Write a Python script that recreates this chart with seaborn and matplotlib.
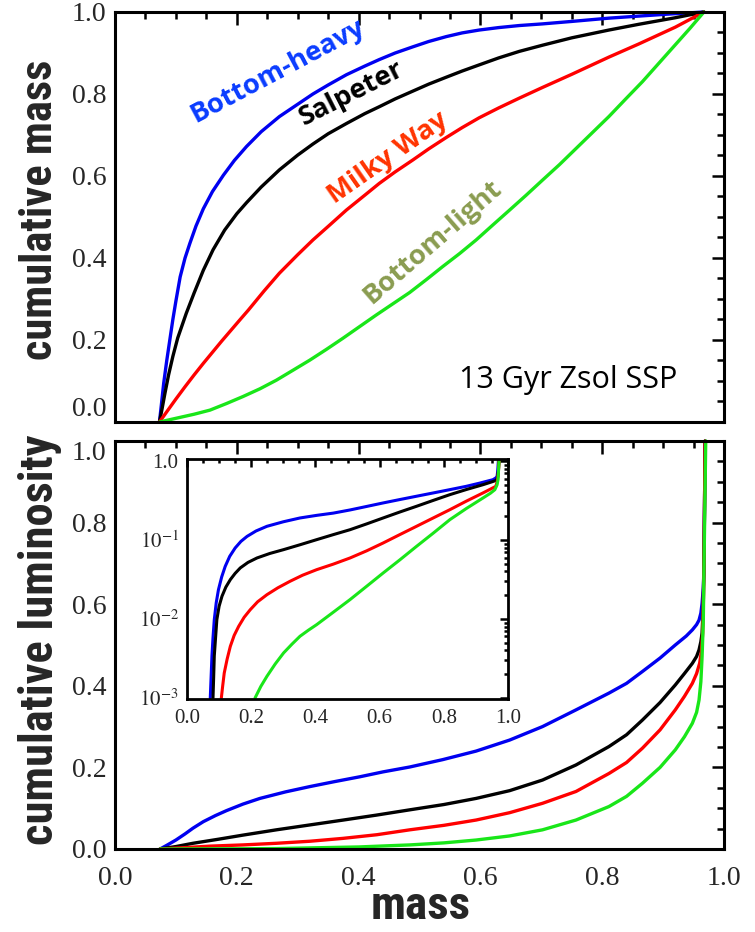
import math
import matplotlib
matplotlib.use("Agg")
import matplotlib.pyplot as plt
import seaborn as sns
from matplotlib.ticker import MultipleLocator, FixedLocator, FuncFormatter, LogLocator, NullFormatter

# ---------------- data ----------------
# top panel: cumulative mass vs mass
blue_mx = [0.073, 0.076, 0.080, 0.085, 0.090, 0.095, 0.100, 0.107, 0.115, 0.123, 0.133, 0.145,
           0.160, 0.178, 0.196, 0.216, 0.240, 0.270, 0.300, 0.325, 0.350, 0.380, 0.410, 0.434,
           0.460, 0.489, 0.515, 0.544, 0.570, 0.598, 0.630, 0.664, 0.702, 0.750, 0.811, 0.860,
           0.910, 0.967]
blue_my = [0.0, 0.04, 0.095, 0.15, 0.20, 0.25, 0.295, 0.354, 0.40, 0.436, 0.478, 0.520,
           0.562, 0.602, 0.638, 0.672, 0.708, 0.745, 0.775, 0.800, 0.822, 0.847, 0.868, 0.884,
           0.900, 0.915, 0.928, 0.940, 0.949, 0.956, 0.962, 0.967, 0.971, 0.977, 0.985, 0.990,
           0.995, 1.0]
black_mx = [0.073, 0.077, 0.082, 0.088, 0.095, 0.103, 0.117, 0.130, 0.145, 0.161, 0.180, 0.200,
            0.216, 0.240, 0.270, 0.300, 0.325, 0.350, 0.380, 0.410, 0.434, 0.460, 0.489, 0.515,
            0.544, 0.570, 0.598, 0.630, 0.664, 0.702, 0.750, 0.811, 0.860, 0.920, 0.967]
black_my = [0.0, 0.03, 0.07, 0.115, 0.16, 0.205, 0.265, 0.315, 0.37, 0.420, 0.468, 0.508,
            0.535, 0.573, 0.615, 0.651, 0.678, 0.703, 0.728, 0.752, 0.769, 0.788, 0.807, 0.824,
            0.841, 0.856, 0.871, 0.888, 0.904, 0.919, 0.937, 0.956, 0.970, 0.986, 1.0]
red_mx = [0.073, 0.085, 0.100, 0.115, 0.130, 0.145, 0.160, 0.175, 0.190, 0.205, 0.219, 0.245,
          0.270, 0.300, 0.325, 0.350, 0.380, 0.410, 0.434, 0.460, 0.489, 0.515, 0.544, 0.570,
          0.598, 0.630, 0.664, 0.702, 0.750, 0.811, 0.860, 0.920, 0.967]
red_my = [0.0, 0.025, 0.056, 0.086, 0.115, 0.143, 0.170, 0.197, 0.223, 0.249, 0.273, 0.320,
          0.363, 0.408, 0.444, 0.477, 0.517, 0.553, 0.582, 0.610, 0.639, 0.666, 0.694, 0.718,
          0.742, 0.766, 0.790, 0.816, 0.848, 0.890, 0.922, 0.963, 1.0]
green_mx = [0.073, 0.100, 0.130, 0.156, 0.183, 0.210, 0.238, 0.265, 0.292, 0.320, 0.347, 0.374,
            0.401, 0.429, 0.456, 0.484, 0.511, 0.538, 0.566, 0.593, 0.620, 0.648, 0.675, 0.702,
            0.730, 0.757, 0.784, 0.811, 0.838, 0.866, 0.893, 0.920, 0.944, 0.967]
green_my = [0.0, 0.009, 0.019, 0.029, 0.045, 0.062, 0.081, 0.102, 0.126, 0.151, 0.177, 0.204,
            0.232, 0.261, 0.288, 0.316, 0.347, 0.379, 0.411, 0.444, 0.480, 0.517, 0.553, 0.590,
            0.628, 0.667, 0.706, 0.745, 0.787, 0.830, 0.875, 0.920, 0.960, 1.0]

# bottom panel: cumulative luminosity vs mass
blue_lx = [0.074, 0.085, 0.100, 0.115, 0.128, 0.145, 0.165, 0.183, 0.210, 0.238, 0.280, 0.320,
           0.360, 0.402, 0.440, 0.484, 0.538, 0.593, 0.648, 0.702, 0.757, 0.811, 0.840, 0.866,
           0.895, 0.920, 0.938, 0.948, 0.955, 0.959, 0.962, 0.964, 0.966, 0.967, 0.968, 0.969]
blue_ly = [0.0, 0.009, 0.022, 0.037, 0.051, 0.067, 0.082, 0.094, 0.110, 0.124, 0.140, 0.153,
           0.165, 0.177, 0.189, 0.201, 0.219, 0.240, 0.267, 0.300, 0.341, 0.382, 0.406, 0.435,
           0.468, 0.500, 0.522, 0.537, 0.550, 0.561, 0.578, 0.602, 0.640, 0.676, 0.839, 1.0]
black_lx = [0.074, 0.100, 0.128, 0.170, 0.210, 0.265, 0.320, 0.375, 0.429, 0.484, 0.540, 0.593,
            0.648, 0.702, 0.757, 0.811, 0.840, 0.866, 0.895, 0.920, 0.935, 0.948, 0.955, 0.959,
            0.962, 0.964, 0.966, 0.968, 0.969]
black_ly = [0.0, 0.006, 0.014, 0.024, 0.034, 0.047, 0.059, 0.071, 0.083, 0.096, 0.109, 0.124,
            0.143, 0.169, 0.206, 0.251, 0.280, 0.316, 0.359, 0.402, 0.430, 0.455, 0.472, 0.488,
            0.508, 0.529, 0.594, 0.839, 1.0]
red_lx = [0.074, 0.110, 0.156, 0.210, 0.265, 0.320, 0.374, 0.430, 0.484, 0.540, 0.593, 0.648,
          0.702, 0.757, 0.811, 0.840, 0.866, 0.895, 0.920, 0.935, 0.948, 0.955, 0.960, 0.963,
          0.965, 0.967, 0.969]
red_ly = [0.0, 0.003, 0.007, 0.010, 0.014, 0.019, 0.026, 0.035, 0.047, 0.058, 0.071, 0.089,
          0.112, 0.141, 0.185, 0.212, 0.247, 0.292, 0.341, 0.374, 0.406, 0.430, 0.455, 0.485,
          0.530, 0.676, 1.0]
green_lx = [0.074, 0.200, 0.265, 0.330, 0.400, 0.450, 0.484, 0.540, 0.593, 0.648, 0.702, 0.757,
            0.811, 0.840, 0.866, 0.895, 0.920, 0.935, 0.948, 0.955, 0.959, 0.962, 0.964, 0.966,
            0.967, 0.970]
green_ly = [0.0, 0.0005, 0.001, 0.003, 0.005, 0.008, 0.010, 0.015, 0.022, 0.032, 0.047, 0.071,
            0.104, 0.129, 0.161, 0.200, 0.243, 0.275, 0.308, 0.335, 0.365, 0.410, 0.471, 0.560,
            0.676, 1.0]

# inset: cumulative luminosity (log) vs mass
blue_ix = [0.0725, 0.075, 0.0777, 0.081, 0.085, 0.091, 0.098, 0.108, 0.119, 0.133, 0.150, 0.168,
           0.187, 0.215, 0.249, 0.300, 0.352, 0.404, 0.456, 0.508, 0.560, 0.612, 0.663, 0.715,
           0.767, 0.819, 0.870, 0.912, 0.953, 0.962, 0.966, 0.968, 0.970]
blue_iy = [0.001, 0.0018, 0.0034, 0.0058, 0.0098, 0.016, 0.0235, 0.034, 0.0463, 0.062, 0.0792,
           0.096, 0.111, 0.13, 0.149, 0.17, 0.19, 0.205, 0.219, 0.24, 0.266, 0.295, 0.325, 0.358,
           0.394, 0.434, 0.478, 0.525, 0.580, 0.61, 0.64, 0.75, 1.0]
black_ix = [0.081, 0.083, 0.085, 0.089, 0.093, 0.100, 0.109, 0.121, 0.135, 0.150, 0.166, 0.190,
            0.218, 0.258, 0.301, 0.352, 0.404, 0.456, 0.508, 0.560, 0.611, 0.663, 0.715, 0.767,
            0.819, 0.870, 0.922, 0.950, 0.964, 0.968, 0.970, 0.972]
black_iy = [0.001, 0.0018, 0.0034, 0.0058, 0.0098, 0.0145, 0.0194, 0.0253, 0.0315, 0.0378,
            0.0443, 0.052, 0.0592, 0.0675, 0.0755, 0.087, 0.101, 0.117, 0.135, 0.16, 0.190,
            0.226, 0.267, 0.317, 0.375, 0.435, 0.501, 0.545, 0.570, 0.63, 0.75, 1.0]
red_ix = [0.107, 0.111, 0.116, 0.125, 0.135, 0.147, 0.161, 0.178, 0.197, 0.220, 0.249, 0.283,
          0.321, 0.360, 0.404, 0.456, 0.508, 0.560, 0.611, 0.663, 0.715, 0.767, 0.819, 0.870,
          0.922, 0.945, 0.962, 0.967, 0.970, 0.972]
red_iy = [0.001, 0.0014, 0.00207, 0.0031, 0.00451, 0.0062, 0.00807, 0.0105, 0.0131, 0.0165,
          0.0203, 0.0248, 0.030, 0.0358, 0.0421, 0.0495, 0.0592, 0.073, 0.0916, 0.117, 0.149,
          0.19, 0.242, 0.31, 0.394, 0.44, 0.478, 0.56, 0.7, 1.0]
green_ix = [0.212, 0.230, 0.249, 0.275, 0.301, 0.327, 0.352, 0.378, 0.404, 0.456, 0.508, 0.560,
            0.611, 0.663, 0.715, 0.767, 0.819, 0.870, 0.922, 0.945, 0.959, 0.966, 0.969, 0.972]
green_iy = [0.001, 0.0014, 0.00188, 0.0027, 0.00372, 0.0048, 0.00604, 0.0072, 0.00848, 0.0122,
            0.0176, 0.026, 0.0382, 0.056, 0.083, 0.122, 0.181, 0.25, 0.340, 0.39, 0.433, 0.50,
            0.58, 1.0]

x_ticks = [0.0, 0.2, 0.4, 0.6, 0.8, 1.0]
y_ticks = [0.0, 0.2, 0.4, 0.6, 0.8, 1.0]
inset_y_ticks = [1e-3, 1e-2, 1e-1, 1.0]

imf_labels = ["Bottom-heavy", "Salpeter", "Milky Way", "Bottom-light"]
line_colors = ["#0000f0", "#000000", "#ff0000", "#19e619"]
label_colors = ["#0a3cff", "#000000", "#ff3300", "#8a9c50"]

# ---------------- style ----------------
sns.set_style("white")
plt.rcParams["font.family"] = ["Liberation Serif", "DejaVu Serif"]
plt.rcParams["mathtext.fontset"] = "stix"

SERIF = ["Liberation Serif", "DejaVu Serif"]
NARROW = ["Liberation Sans Narrow", "Roboto Condensed", "Roboto", "DejaVu Sans"]
ANNOT = ["Open Sans", "Lato", "DejaVu Sans"]

fig = plt.figure(figsize=(7.55, 9.32), dpi=100)
W, H = 755.0, 932.0


def ax_rect(l, t, r, b):
    return [l / W, 1 - b / H, (r - l) / W, (b - t) / H]


ax_top = fig.add_axes(ax_rect(115, 12, 724, 422))
ax_bot = fig.add_axes(ax_rect(115, 441, 724, 849))
ax_in = fig.add_axes(ax_rect(187, 459, 508, 699))


def style_axes(ax, major=9, minor=5, lw=2.2, size=20, pad_x=12, pad_y=6):
    for sp in ax.spines.values():
        sp.set_linewidth(lw)
        sp.set_color("black")
        sp.set_visible(True)
    ax.tick_params(which="both", direction="in", top=True, right=True, color="black", width=1.8)
    ax.tick_params(which="major", length=major)
    ax.tick_params(which="minor", length=minor)
    ax.tick_params(axis="x", pad=pad_x, labelsize=size)
    ax.tick_params(axis="y", pad=pad_y, labelsize=size)
    for lab in ax.get_xticklabels() + ax.get_yticklabels():
        lab.set_family(SERIF)


fmt1 = FuncFormatter(lambda v, p: f"{v:.1f}")

top_sets = [(blue_mx, blue_my), (black_mx, black_my), (red_mx, red_my), (green_mx, green_my)]
bot_sets = [(blue_lx, blue_ly), (black_lx, black_ly), (red_lx, red_ly), (green_lx, green_ly)]
in_sets = [(blue_ix, blue_iy), (black_ix, black_iy), (red_ix, red_iy), (green_ix, green_iy)]

for ax, sets in [(ax_top, top_sets), (ax_bot, bot_sets)]:
    for (xs, ys), c in zip(sets, line_colors):
        sns.lineplot(x=xs, y=ys, ax=ax, color=c, linewidth=2.4, estimator=None, sort=False,
                     clip_on=False)
    ax.set_xlim(0, 1)
    ax.set_ylim(0, 1)
    ax.xaxis.set_major_locator(FixedLocator(x_ticks))
    ax.xaxis.set_minor_locator(MultipleLocator(0.05))
    ax.yaxis.set_major_locator(FixedLocator(y_ticks))
    ax.yaxis.set_minor_locator(MultipleLocator(0.05))
    ax.xaxis.set_major_formatter(fmt1)
    ax.yaxis.set_major_formatter(fmt1)
    style_axes(ax)

ax_top.tick_params(axis="x", labelbottom=False)

# keep the touching "0.0" (top panel) and "1.0" (bottom panel) labels apart, as in the reference
ax_top.yaxis.get_major_ticks()[0].label1.set_verticalalignment("bottom")
ax_bot.yaxis.get_major_ticks()[-1].label1.set_verticalalignment("top")

# inset
for (xs, ys), c in zip(in_sets, line_colors):
    sns.lineplot(x=xs, y=ys, ax=ax_in, color=c, linewidth=2.2, estimator=None, sort=False)
ax_in.set_yscale("log")
ax_in.set_xlim(0, 1)
ax_in.set_ylim(0.00097, 1.06)
ax_in.xaxis.set_major_locator(FixedLocator(x_ticks))
ax_in.xaxis.set_minor_locator(MultipleLocator(0.05))
ax_in.xaxis.set_major_formatter(fmt1)
ax_in.yaxis.set_major_locator(FixedLocator(inset_y_ticks))
ax_in.yaxis.set_minor_locator(LogLocator(base=10, subs=[2, 3, 4, 5, 6, 7, 8, 9]))
ax_in.yaxis.set_minor_formatter(NullFormatter())


def logfmt(v, p):
    if abs(v - 1.0) < 1e-9:
        return "1.0"
    e = int(round(math.log10(v)))
    return r"$10^{%d}$" % e


ax_in.yaxis.set_major_formatter(FuncFormatter(logfmt))
style_axes(ax_in, major=6, minor=3, lw=2.0, size=15, pad_x=7, pad_y=6)

# axis labels
fig.text(40 / W, 1 - 210 / H, "cumulative mass", rotation=90, ha="center", va="center",
         fontsize=32, fontweight="bold", family=NARROW)
fig.text(40 / W, 1 - 640 / H, "cumulative luminosity", rotation=90, ha="center", va="center",
         fontsize=33.5, fontweight="bold", family=NARROW)
fig.text(421 / W, 1 - 906 / H, "mass", ha="center", va="center",
         fontsize=34, fontweight="bold", family=NARROW)

# curve annotations (pixel centres and angles)
ann = [(278, 71, 28), (352, 94, 27), (388, 158, 35), (433, 242, 41)]
for lab, col, (px, py, ang) in zip(imf_labels, label_colors, ann):
    fig.text(px / W, 1 - py / H, lab, rotation=ang, rotation_mode="anchor", ha="center",
             va="center", fontsize=19.7, fontweight="bold", color=col, family=ANNOT)

fig.text(568 / W, 1 - 380 / H, "13 Gyr Zsol SSP", ha="center", va="center", fontsize=22,
         color="black", family=ANNOT)

fig.savefig("out.png", dpi=100)
